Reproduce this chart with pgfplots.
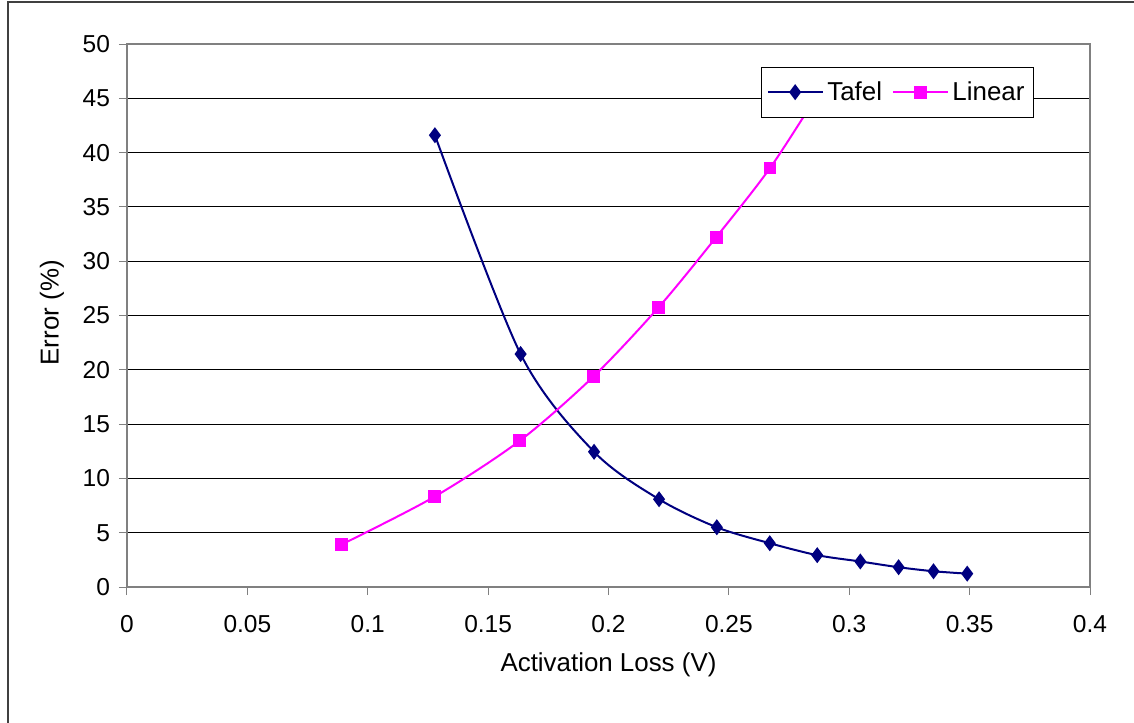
\documentclass[border=0pt]{standalone}
\usepackage{fontspec}
\setmainfont{Liberation Sans}
\usepackage{pgfplots}
\pgfplotsset{compat=1.18}

\definecolor{tafelblue}{RGB}{0,0,128}
\definecolor{linmag}{RGB}{255,0,255}
\definecolor{gridgray}{RGB}{128,128,128}

\begin{document}
\begin{tikzpicture}
\useasboundingbox (-63.5bp,-68bp) rectangle (503.5bp,293.5bp);
\draw[black!75, line width=0.6bp] (-59.5bp,-68bp) -- (-59.5bp,292.5bp) -- (503.5bp,292.5bp);
\begin{axis}[
  at={(0,0)}, anchor=south west,
  scale only axis,
  width=481.5bp, height=271.5bp,
  xmin=0, xmax=0.4, ymin=0, ymax=50,
  xtick={0,0.05,0.1,0.15,0.2,0.25,0.3,0.35,0.4},
  xticklabels={0,0.05,0.1,0.15,0.2,0.25,0.3,0.35,0.4},
  ytick={0,5,10,15,20,25,30,35,40,45,50},
  yticklabels={0,5,10,15,20,25,30,35,40,45,50},
  tick align=outside,
  major tick length=4bp,
  tick style={gridgray, line width=0.5bp},
  xtick pos=bottom, ytick pos=left,
  axis line style={gridgray, line width=0.6bp},
  ymajorgrids,
  major grid style={black, line width=0.5bp},
  tick label style={font=\fontsize{12.3}{14}\selectfont},
  xticklabel style={yshift=-6.5bp},
  yticklabel style={xshift=-1bp},
  label style={font=\fontsize{13}{15}\selectfont},
  xlabel={Activation Loss (V)},
  ylabel={Error (\%)},
  xlabel style={at={(axis description cs:0.5,-0.144)}, anchor=center},
  ylabel style={at={(axis description cs:-0.0779,0.505)}, anchor=center},
  legend style={at={(0.9418,0.958)}, anchor=north east, draw=black, fill=white,
    line width=0.5bp, font=\fontsize{13}{15}\selectfont,
    inner xsep=2.5bp, inner ysep=5bp, /tikz/every even column/.append style={column sep=3bp}},
  legend columns=2,
  legend image code/.code={%
    \draw[mark repeat=2,mark phase=2] plot coordinates {(0cm,0cm)(0.48cm,0cm)(0.96cm,0cm)};},
]
\addplot[tafelblue, line width=1bp, smooth, tension=0.5,
  mark=diamond*, mark size=3.2bp, mark options={solid, fill=tafelblue}]
  coordinates {
  (0.1279,41.6) (0.1635,21.45) (0.1940,12.45) (0.2210,8.08) (0.2450,5.50)
  (0.2670,4.03) (0.2867,2.93) (0.3046,2.35) (0.3205,1.82) (0.3350,1.45) (0.3490,1.23)
};
\addlegendentry{Tafel}
\addplot[linmag, line width=1bp, smooth, tension=0.5,
  mark=square*, mark size=2.7bp, mark options={solid, fill=linmag}]
  coordinates {
  (0.0892,3.92) (0.1276,8.30) (0.1631,13.46) (0.1937,19.37) (0.2208,25.75)
  (0.2447,32.2) (0.2671,38.58) (0.2867,45.3)
};
\addlegendentry{Linear}
\end{axis}
\end{tikzpicture}
\end{document}
